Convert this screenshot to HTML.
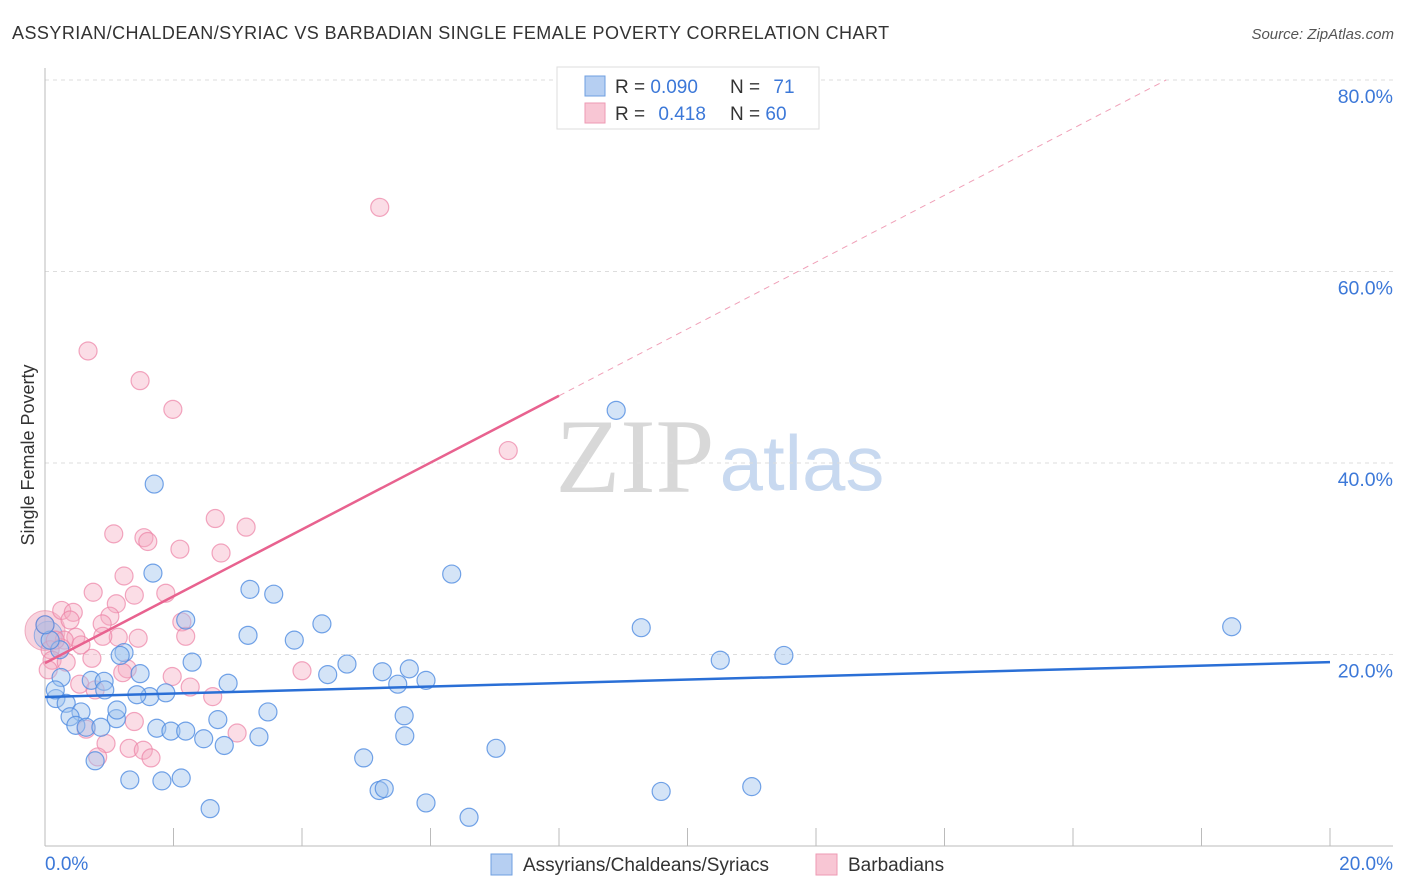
<!DOCTYPE html>
<html><head><meta charset="utf-8"><style>
body{margin:0;background:#fff;font-family:"Liberation Sans",sans-serif;}
svg{display:block}
</style></head><body>
<svg id="c" width="1406" height="892" xmlns="http://www.w3.org/2000/svg">
<text x="12" y="39" font-size="18" fill="#333" letter-spacing="0.45">ASSYRIAN/CHALDEAN/SYRIAC VS BARBADIAN SINGLE FEMALE POVERTY CORRELATION CHART</text>
<text x="1394" y="39" font-size="15" fill="#555" text-anchor="end" font-style="italic">Source: ZipAtlas.com</text>
<text x="635" y="492" font-size="106" fill="#d8d8d8" font-family="Liberation Serif" text-anchor="middle">ZIP</text>
<text x="802" y="490" font-size="78" fill="#c8d9f0" text-anchor="middle">atlas</text>
<text transform="translate(34,455) rotate(-90)" font-size="18" fill="#333" text-anchor="middle">Single Female Poverty</text>
<g id="grid"></g>
<g id="pts"></g>
<g id="trend"></g>
<g>
<rect x="557" y="67" width="262" height="62" fill="#fff" stroke="#ddd"/>
<rect x="585" y="76" width="20" height="20" fill="#b6cff2" stroke="#6f9fe0"/>
<rect x="585" y="103" width="20" height="20" fill="#f8c6d4" stroke="#ee9ab3"/>
<text x="615" y="93" font-size="19" fill="#333">R = <tspan fill="#3c78d8">0.090</tspan></text>
<text x="730" y="93" font-size="19" fill="#333">N = <tspan fill="#3c78d8" dx="8">71</tspan></text>
<text x="615" y="120" font-size="19" fill="#333">R = <tspan fill="#3c78d8" dx="8">0.418</tspan></text>
<text x="730" y="120" font-size="19" fill="#333">N = <tspan fill="#3c78d8">60</tspan></text>
</g>
<g>
<rect x="491" y="854" width="21" height="21" fill="#b6cff2" stroke="#6f9fe0"/>
<text x="523" y="871" font-size="19" fill="#333">Assyrians/Chaldeans/Syriacs</text>
<rect x="816" y="854" width="21" height="21" fill="#f8c6d4" stroke="#ee9ab3"/>
<text x="848" y="871" font-size="19" fill="#333">Barbadians</text>
</g>
</svg>
<script>
const blueX=[1.70,8.89,6.33,3.19,3.56,2.19,3.16,3.88,4.31,9.28,18.47,11.50,10.51,1.68,1.23,1.17,2.29,4.70,5.25,5.67,4.40,5.49,5.93,1.48,0.25,0.72,0.92,2.85,0.17,1.88,1.63,1.43,0.33,0.93,0.56,0.39,3.47,5.59,1.11,2.69,0.48,0.64,0.87,1.74,1.96,2.19,2.47,2.79,3.33,5.60,7.02,4.96,0.78,1.32,1.82,2.12,5.20,5.28,9.59,11.00,5.93,2.57,6.60,0.23,0.08,0.16,1.12,0.0];
const blueY=[37.8,45.5,28.4,26.8,26.3,23.6,22.0,21.5,23.2,22.8,22.9,19.9,19.4,28.5,20.2,19.9,19.2,19.0,18.2,18.5,17.9,16.9,17.3,18.0,17.6,17.3,17.2,17.0,15.4,16.0,15.6,15.8,14.9,16.3,14.0,13.5,14.0,13.6,13.3,13.2,12.6,12.4,12.4,12.3,12.0,12.0,11.2,10.5,11.4,11.5,10.2,9.2,8.9,6.9,6.8,7.1,5.8,6.0,5.7,6.2,4.5,3.9,3.0,20.5,21.5,16.3,14.2,23.1];
const pinkX=[5.21,0.67,1.48,1.99,7.21,2.65,3.13,1.07,1.54,1.60,2.10,2.74,1.23,0.75,1.88,1.39,1.11,0.26,0.44,1.01,2.13,0.89,1.14,0.90,0.48,1.45,2.19,0.30,0.56,0.25,0.08,0.11,0.73,0.33,4.00,1.28,1.21,1.98,0.54,2.26,0.78,2.61,1.39,0.64,0.95,1.31,1.53,1.65,0.82,2.99,0.0,0.16,0.39,0.05];
const pinkY=[66.7,51.7,48.6,45.6,41.3,34.2,33.3,32.6,32.2,31.8,31.0,30.6,28.2,26.5,26.4,26.2,25.3,24.6,24.4,24.0,23.4,23.2,21.8,21.9,21.8,21.7,21.9,21.5,21.0,20.7,20.5,19.4,19.6,19.2,18.3,18.5,18.1,17.7,16.9,16.6,16.3,15.6,13.0,12.2,10.7,10.2,10.0,9.2,9.3,11.8,23.1,21.5,23.6,18.4];
const yTicks=[20,40,60,80];
const xTickLabels=["0.0%","20.0%"];
const blueTrend=[15.56,19.2];
const pinkTrend=[19.1,3.49];
const NS="http://www.w3.org/2000/svg";
const sx=v=>45+v/20*1285, sy=v=>846-v/20*191.5;
function mk(t,a,p){const e=document.createElementNS(NS,t);for(const k in a)e.setAttribute(k,a[k]);p.appendChild(e);return e;}
const g=document.getElementById('grid');
yTicks.forEach(t=>{
 const l=mk('line',{x1:45,x2:1393,y1:sy(t),y2:sy(t),stroke:'#ddd','stroke-dasharray':'4,4'},g);
 
 
 const tx=mk('text',{x:1393,y:sy(t)+23,'font-size':19.5,fill:'#3c78d8','text-anchor':'end'},g);
 tx.textContent=t.toFixed(1)+'%';
 
 
});
const ax=mk('line',{x1:45,x2:45,y1:68,y2:846,stroke:'#bbb'},g);


const bx=mk('line',{x1:45,x2:1393,y1:846,y2:846,stroke:'#bbb'},g);


for(let i=0;i<=10;i++){const tk=mk('line',{x1:sx(i*2),x2:sx(i*2),y1:828,y2:846,stroke:'#bbb'},g);
 
 }
[[0,'start',45],[1,'end',1393]].forEach(([i,a,x])=>{const t=mk('text',{x:x,y:870,'font-size':19,fill:'#3c78d8','text-anchor':a},g);t.textContent=xTickLabels[i];
 
 });
const p=document.getElementById('pts');
const big1=mk('circle',{cx:sx(0),cy:sy(22.5),r:20,fill:'rgba(240,160,185,0.45)',stroke:'rgba(230,130,160,0.6)'},p);


const big2=mk('circle',{cx:sx(0.05),cy:sy(22),r:14,fill:'rgba(150,185,235,0.35)',stroke:'rgba(90,145,225,0.6)'},p);


pinkX.forEach((x,i)=>{const c=mk('circle',{cx:sx(x),cy:sy(pinkY[i]),r:9,fill:'rgba(244,170,192,0.4)',stroke:'rgba(236,130,165,0.7)','stroke-width':1.2},p);
 
 });
blueX.forEach((x,i)=>{const c=mk('circle',{cx:sx(x),cy:sy(blueY[i]),r:9,fill:'rgba(160,195,238,0.45)',stroke:'rgba(80,140,225,0.8)','stroke-width':1.2},p);
 
 });
const tr=document.getElementById('trend');
const b=mk('line',{x1:sx(0),y1:sy(blueTrend[0]),x2:sx(20),y2:sy(blueTrend[1]),stroke:'#2a6fd6','stroke-width':2.5},tr);


const pe=8, pd=(80-pinkTrend[0])/pinkTrend[1];
const ps=mk('line',{x1:sx(0),y1:sy(pinkTrend[0]),x2:sx(pe),y2:sy(pinkTrend[0]+pinkTrend[1]*pe),stroke:'#e8628f','stroke-width':2.5},tr);


const pdl=mk('line',{x1:sx(pe),y1:sy(pinkTrend[0]+pinkTrend[1]*pe),x2:sx(pd),y2:sy(80),stroke:'#f0a0b8','stroke-width':1,'stroke-dasharray':'6,5'},tr);


</script>
</body></html>
